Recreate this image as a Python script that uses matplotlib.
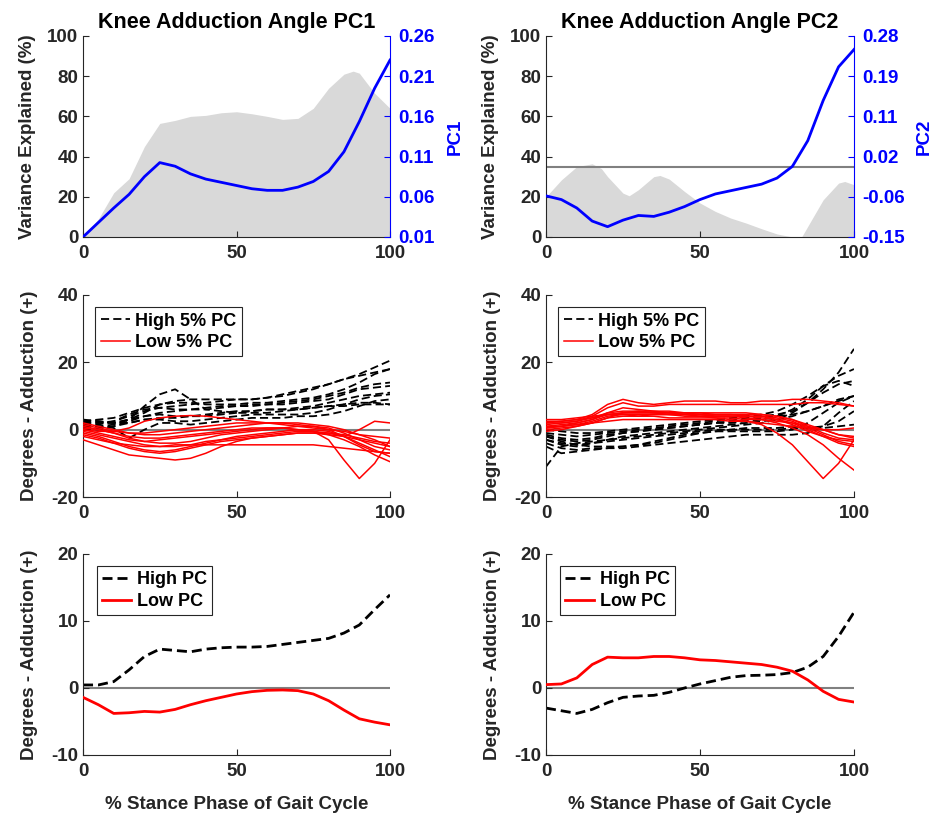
"""Knee adduction angle PCA figure: PC loadings, extreme curves and group means."""

import numpy as np
import matplotlib

matplotlib.use("Agg")
import matplotlib.pyplot as plt

plt.rcParams["font.family"] = ["Liberation Sans", "DejaVu Sans"]
plt.rcParams["font.weight"] = "bold"
plt.rcParams["axes.labelweight"] = "bold"
plt.rcParams["axes.titleweight"] = "bold"
plt.rcParams["axes.unicode_minus"] = False

INK = "#262626"
GREY_FILL = "#d9d9d9"
ZERO = "#808080"
BLUE = "#0000ff"
RED = "#ff0000"

# ---- top row: variance explained (grey) and PC loading (blue) ----
X_VAR1 = [0, 5, 10, 15, 20, 25, 30, 35, 40, 45, 50, 55, 60, 65, 70, 75, 80, 85, 88, 90, 95, 100]
VAR1 = [0, 9, 22, 29, 45, 56.5, 58, 60, 60.5, 61.8, 62.3, 61.3, 60, 58.5, 59, 64, 74, 81, 82.5, 81.5, 71.5, 64]
X_VAR2 = [0, 5, 10, 15, 18, 20, 25, 27, 30, 35, 37, 40, 45, 50, 55, 60, 65, 70, 75, 80, 83, 85, 90, 95, 97, 100]
VAR2 = [20, 28.4, 35, 36.4, 34, 30, 21.8, 20.5, 23.5, 30, 30.6, 28.8, 22.6, 16.9, 12.7, 9.4, 6.9, 4.1, 1.5, 0, 0,
        5.3, 18.5, 26.8, 27.6, 26]
VAR2_THRESHOLD = 35

X_PC = np.arange(0, 101, 5)
PC1 = [0.010, 0.028, 0.046, 0.063, 0.085, 0.1025, 0.098, 0.0885, 0.082, 0.078, 0.074, 0.070, 0.068, 0.068,
       0.072, 0.079, 0.0915, 0.116, 0.1535, 0.195, 0.230]
PC2 = [-0.062, -0.070, -0.088, -0.116, -0.128, -0.114, -0.104, -0.106, -0.097, -0.085, -0.070, -0.058, -0.051,
       -0.044, -0.037, -0.024, 0.001, 0.056, 0.142, 0.214, 0.251]
PC1_TICKS = [0.01, 0.06, 0.11, 0.16, 0.21, 0.26]
PC2_TICKS = [-0.15, -0.064, 0.022, 0.108, 0.194, 0.28]

# ---- middle row: individual curves for the highest / lowest 5% scores ----
X_CURVE = np.arange(0, 101, 5)
HIGH_PC1 = [
    [2.5, 2.5, 2, 3, 7, 10.5, 12, 9, 6, 5.5, 5, 5, 5, 5.5, 6, 6.5, 7, 7.5, 8, 8, 7.5],
    [1, 1.5, 2.5, 4, 5.5, 6.5, 7, 7.5, 8, 8.5, 9, 9, 9.5, 10.5, 11.5, 12.5, 13.5, 15, 16.5, 18.5, 20.5],
    [2, 2, 2, 3, 5, 7.5, 8.5, 9, 9, 9, 9, 9, 9.5, 10, 11, 12, 13.5, 15, 16, 17, 18],
    [0.5, 0.5, 1, 2.5, 4, 5, 5.5, 6, 6, 6.5, 7, 7, 7.5, 8, 8.5, 9, 10, 11, 12.5, 13.5, 14],
    [3, 2.5, 2, 2, 3, 3.5, 3.5, 4, 4.5, 5, 5.5, 5.5, 6, 6, 6.5, 7, 8, 9, 10, 10.5, 11],
    [1.5, 1, 0.5, -2.5, 0, 2, 2, 1.5, 2, 2.5, 3, 3.5, 3.5, 3.5, 4, 4, 4.5, 5.5, 7, 8.5, 9],
    [2, 2, 2.5, 4.5, 6, 6.5, 6, 6, 6.5, 7, 7, 7.5, 7.5, 7.5, 8, 8.5, 9, 10.5, 12, 12.5, 13],
    [1, 1, 1.5, 3, 4, 4.5, 4, 4, 4, 4.5, 5, 5.5, 6, 6, 6, 6.5, 7, 7, 7.5, 7.5, 7.5],
    [2.5, 3, 3.5, 5, 6.5, 7.5, 8, 8, 7.5, 7.5, 7.5, 8, 8, 8.5, 9, 9.5, 10.5, 12, 14, 16.5, 18],
    [0, 0, 1, 2, 3, 3, 2.5, 2.5, 3, 3.5, 4, 4.5, 4.5, 4.5, 4.5, 5, 6, 7.5, 9, 10, 10.5],
]
LOW_PC1 = [
    [0, -0.5, -0.5, 0.5, 2.5, 3.5, 4, 4.2, 4, 3.5, 3, 2.5, 2, 1.5, 1, 0.5, 0, -0.5, -1.5, -2, -2.5],
    [0.5, 0, -1, -2, -2.5, -2.5, -2, -1.5, -1, -0.5, 0, 0.5, 0.5, 0.5, 0, -0.5, -3, -9, -14.5, -10, -3],
    [-3, -4.5, -6, -7.5, -8, -8.5, -9, -8.5, -7, -5, -3.5, -2.5, -2, -1.5, -1, -1, -1.5, -3, -5, -7.5, -9.5],
    [-2, -3, -4, -4.5, -5, -5, -4.5, -4.5, -4.5, -4.5, -4.5, -4.5, -4.5, -4.5, -4.5, -4.5, -5, -5.5, -6, -6.5, -7],
    [-1, -2, -3.5, -5, -6, -6.5, -6, -5, -4, -3, -2, -1.5, -1, -0.5, 0, 0, -0.5, -2, -4, -6, -8],
    [1, 0, -1, -2.5, -3.5, -4, -4, -3.5, -2.5, -1.5, -1, -0.5, 0, 0.5, 1, 1, 0.5, -1, -3, -5, -6],
    [2, 1, 0, -1, -1.5, -1.5, -1, -0.5, 0, 0.5, 1, 1.5, 2, 2, 2, 1.5, 1, 0, -1.5, -3, -5],
    [-1.5, -2.5, -4, -5.5, -6.5, -7, -6.5, -5.5, -4.5, -3.5, -3, -2.5, -2, -1.5, -1, -1, -1, -1.5, -2.5, -3.5, -4],
    [0, -1, -2, -3, -3.5, -3, -2.5, -2, -1.5, -1, -0.5, 0, 0.5, 0.5, 0, -0.5, -1.5, -2, 0, 2.5, 2],
    [1.5, 0.5, -0.5, -1, -1, -0.5, 0, 0.5, 1, 1.5, 2, 2, 2, 2, 1.5, 1, 0, -2, -4.5, -6.5, -7],
    [-0.5, -1.5, -2.5, -3.5, -4.5, -5, -5, -4.5, -3.5, -3, -2.5, -2, -1.5, -1, -0.5, -0.5, -1, -2, -3, -4, -5],
]
HIGH_PC2 = [
    [-11, -5, -4, -3.5, -3, -2.5, -2, -1.5, -1, -0.5, 0, 0.5, 1, 1.5, 2, 3, 5, 8, 12, 17, 24],
    [-2, -3, -3.5, -3, -2, -1, -0.5, 0, 0.5, 1, 1.5, 2, 2, 2.5, 3, 4, 6, 9, 13, 16, 18],
    [-4, -5.5, -6, -5.5, -5.5, -5.5, -5, -4.5, -4, -3.5, -3, -2.5, -2, -1.5, -1.5, -1.5, -1.5, -1, 1, 5, 8.5],
    [-1, -1.5, -2, -1.5, -1, -0.5, 0, 0.5, 1, 1.5, 2, 2.5, 3, 3.5, 4, 4.5, 5.5, 8, 11, 13.5, 14.5],
    [-3, -4, -4.5, -4, -3.5, -3, -2.5, -2, -1.5, -1, -0.5, 0, 0, 0, 0, 0, 0.5, 0.5, 1, 2.5, 5.5],
    [-2, -3.5, -4.5, -5, -5, -5, -4.5, -3.5, -2.5, -1.5, -1, -0.5, -0.5, -0.5, -0.5, -0.5, 0, 2, 5, 8, 10],
    [-5, -7, -6.5, -6, -5.5, -5, -4.5, -4, -3, -2, -1, -0.5, 0, 0.5, 0.5, 0.5, 1, 0.5, 0.5, 1, 1.5],
    [0, -0.5, -1, -1, -0.5, 0, 0.5, 1, 1.5, 2, 2.5, 3, 3.5, 4, 4.5, 5.5, 7.5, 10, 13, 14.5, 13],
    [-3, -4.5, -5, -4, -3, -2, -1.5, -1, -0.5, 0, 0.5, 1, 1.5, 2, 2.5, 3, 4, 5.5, 7, 8.5, 10],
    [-1.5, -2.5, -3, -2.5, -1.5, -1, -0.5, 0, 0.5, 1, 1.5, 2, 2.5, 3, 3.5, 4, 4.5, 5.5, 7, 9, 10],
]
LOW_PC2 = [
    [2, 2.5, 3, 4.5, 7.5, 9, 8, 7.5, 8, 8.5, 8.5, 8.5, 8, 8, 8.5, 8.5, 9, 9, 8.5, 8, 7],
    [1.5, 2, 2.5, 4, 6.5, 8, 7, 7, 7.5, 7.5, 7.5, 7.5, 7.5, 7.5, 7.5, 7.5, 7.5, 8, 8, 7.5, 7],
    [0.5, 1, 1.5, 2.5, 4, 4.5, 4.5, 4.5, 4.5, 4, 4, 3.5, 3, 2.5, 1.5, -1, -4.5, -9.5, -14.5, -10, -3],
    [1, 1.5, 2, 3, 4.5, 5, 5, 5, 5, 4.5, 4.5, 4, 4, 3.5, 3, 2, 0.5, -1.5, -4.5, -8.5, -12],
    [0, 0.5, 1, 2, 3.5, 4, 4, 4.5, 4.5, 4.5, 4, 4, 4, 4, 3.5, 3, 1.5, -0.5, -2, -3, -3.5],
    [2.5, 2.5, 3, 3.5, 5, 5.5, 5.5, 5.5, 5, 5, 5, 5, 5, 5, 4.5, 4, 3, 1.5, 0, -1.5, -2],
    [1, 1, 1.5, 2, 2.5, 3, 3, 3, 3, 3, 3, 3, 2.5, 2.5, 2, 1.5, 1, 0.5, 0, 0, 0.5],
    [-0.5, 0, 1, 2, 3.5, 5, 5.5, 5, 4.5, 4.5, 4.5, 4, 4, 4, 4, 3.5, 2.5, 0.5, -1.5, -3.5, -4.5],
    [2, 2, 2.5, 3.5, 4.5, 5, 5, 5, 5, 5, 4.5, 4.5, 4.5, 4, 4, 3, 2, 0, -2, -4, -5],
    [0.5, 1, 2, 3, 5, 6.5, 6, 5.5, 5.5, 5, 5, 4.5, 4.5, 4.5, 4.5, 4, 3, 1, -1, -2.5, -3],
    [3, 3, 3.5, 4, 4.5, 4.5, 4, 4, 3.5, 3.5, 3.5, 3.5, 3.5, 3, 3, 2.5, 2, 1, 0, -1.5, -2.5],
]

# ---- bottom row: mean curves of the high / low groups ----
X_MEAN = np.arange(0, 101, 5)
MEAN_HIGH_PC1 = [0.45, 0.45, 0.95, 2.7, 4.7, 5.8, 5.6, 5.4, 5.8, 6.0, 6.1, 6.1, 6.2, 6.5, 6.8, 7.1, 7.4, 8.2, 9.4, 11.7, 13.9]
MEAN_LOW_PC1 = [-1.4, -2.5, -3.8, -3.7, -3.5, -3.6, -3.2, -2.5, -1.9, -1.4, -0.9, -0.55, -0.35, -0.3, -0.4, -0.9,
                -1.9, -3.3, -4.6, -5.1, -5.5]
MEAN_HIGH_PC2 = [-3.0, -3.4, -3.8, -3.2, -2.2, -1.4, -1.2, -1.1, -0.65, 0.0, 0.6, 1.1, 1.6, 1.85, 1.9, 2.0, 2.3,
                 3.1, 4.7, 7.7, 11.3]
MEAN_LOW_PC2 = [0.5, 0.6, 1.5, 3.5, 4.6, 4.5, 4.5, 4.7, 4.7, 4.5, 4.2, 4.1, 3.9, 3.7, 3.5, 3.1, 2.5, 1.2, -0.5,
                -1.7, -2.1]

COL_LEFT = [0.0890, 0.5852]
COL_WIDTH = [0.3290, 0.3301]
ROW_Y = [(0.7096, 0.2463), (0.3909, 0.2476), (0.0748, 0.2463)]


def style_axes(ax, pad_x=6):
    for side in ("top", "right"):
        ax.spines[side].set_visible(False)
    for side in ("left", "bottom"):
        ax.spines[side].set_color(INK)
        ax.spines[side].set_linewidth(0.8)
    ax.tick_params(direction="in", length=4, width=0.8, colors=INK, labelsize=13.5)
    ax.tick_params(axis="x", pad=pad_x)
    ax.set_xlim(0, 100)
    ax.set_xticks([0, 50, 100])
    ax.set_facecolor("none")


def top_panel(ax, x_var, var, pc, pc_ticks, pc_name, threshold=None):
    style_axes(ax)
    ax.fill_between(x_var, var, 0, color=GREY_FILL, lw=0, zorder=1)
    if threshold is not None:
        ax.axhline(threshold, color=ZERO, lw=1.5, zorder=2)
    ax.set_ylim(0, 100)
    ax.set_yticks([0, 20, 40, 60, 80, 100])
    ax.set_ylabel("Variance Explained (%)", fontsize=13.5, color=INK)
    ax.yaxis.set_label_coords(-0.153, 0.5)
    ax.set_title(f"Knee Adduction Angle {pc_name}", fontsize=15.5, color="black", fontweight="bold")

    axr = ax.twinx()
    for side in ("top", "left", "bottom"):
        axr.spines[side].set_visible(False)
    axr.spines["right"].set_color(BLUE)
    axr.spines["right"].set_linewidth(0.8)
    axr.plot(X_PC, pc, color=BLUE, lw=2.0, zorder=3)
    axr.set_ylim(pc_ticks[0], pc_ticks[-1])
    axr.set_yticks(pc_ticks)
    axr.set_yticklabels([f"{v:.2f}" for v in pc_ticks])
    axr.tick_params(direction="in", length=4, width=0.8, colors=BLUE, labelsize=13.5, pad=6)
    axr.set_ylabel(pc_name, fontsize=13.5, color=BLUE, rotation=90)
    return axr


def add_legend(ax, x0):
    leg = ax.legend(loc="upper left", bbox_to_anchor=(x0, 0.94), borderaxespad=0, fontsize=13,
                    handlelength=1.6, handletextpad=0.3, labelspacing=0.25, borderpad=0.3,
                    fancybox=False, framealpha=1)
    leg.get_frame().set_edgecolor(INK)
    leg.get_frame().set_linewidth(0.8)


def middle_panel(ax, high, low):
    style_axes(ax)
    ax.axhline(0, color=ZERO, lw=1.5, zorder=1)
    for i, ys in enumerate(high):
        ax.plot(X_CURVE, ys, color="black", lw=1.3, dashes=(4.5, 2.3), zorder=2,
                label="High 5% PC" if i == 0 else None)
    for i, ys in enumerate(low):
        ax.plot(X_CURVE, ys, color=RED, lw=1.1, zorder=3,
                label="Low 5% PC" if i == 0 else None)
    ax.set_ylim(-20, 40)
    ax.set_yticks([-20, 0, 20, 40])
    ax.set_ylabel("Degrees - Adduction (+)", fontsize=13.5, color=INK)
    ax.yaxis.set_label_coords(-0.147, 0.5)
    add_legend(ax, 0.04)


def bottom_panel(ax, high, low):
    style_axes(ax)
    ax.axhline(0, color=ZERO, lw=1.5, zorder=1)
    ax.plot(X_MEAN, high, color="black", lw=2.0, dashes=(3.6, 1.8), label="High PC", zorder=2)
    ax.plot(X_MEAN, low, color=RED, lw=2.0, label="Low PC", zorder=3)
    ax.set_ylim(-10, 20)
    ax.set_yticks([-10, 0, 10, 20])
    ax.set_ylabel("Degrees - Adduction (+)", fontsize=13.5, color=INK)
    ax.yaxis.set_label_coords(-0.147, 0.5)
    ax.set_xlabel("% Stance Phase of Gait Cycle", fontsize=13.5, color=INK)
    ax.xaxis.set_label_coords(0.5, -0.205)
    add_legend(ax, 0.045)


def main():
    fig = plt.figure(figsize=(9.33, 8.16), dpi=100)
    axes = [[fig.add_axes([COL_LEFT[c], ROW_Y[r][0], COL_WIDTH[c], ROW_Y[r][1]]) for c in range(2)]
            for r in range(3)]

    r1 = top_panel(axes[0][0], X_VAR1, VAR1, PC1, PC1_TICKS, "PC1")
    r1.yaxis.set_label_coords(1.186, 0.5)
    r2 = top_panel(axes[0][1], X_VAR2, VAR2, PC2, PC2_TICKS, "PC2", threshold=VAR2_THRESHOLD)
    r2.yaxis.set_label_coords(1.201, 0.5)

    middle_panel(axes[1][0], HIGH_PC1, LOW_PC1)
    middle_panel(axes[1][1], HIGH_PC2, LOW_PC2)

    bottom_panel(axes[2][0], MEAN_HIGH_PC1, MEAN_LOW_PC1)
    bottom_panel(axes[2][1], MEAN_HIGH_PC2, MEAN_LOW_PC2)

    fig.savefig("out.png", dpi=100, facecolor="white")


if __name__ == "__main__":
    main()
